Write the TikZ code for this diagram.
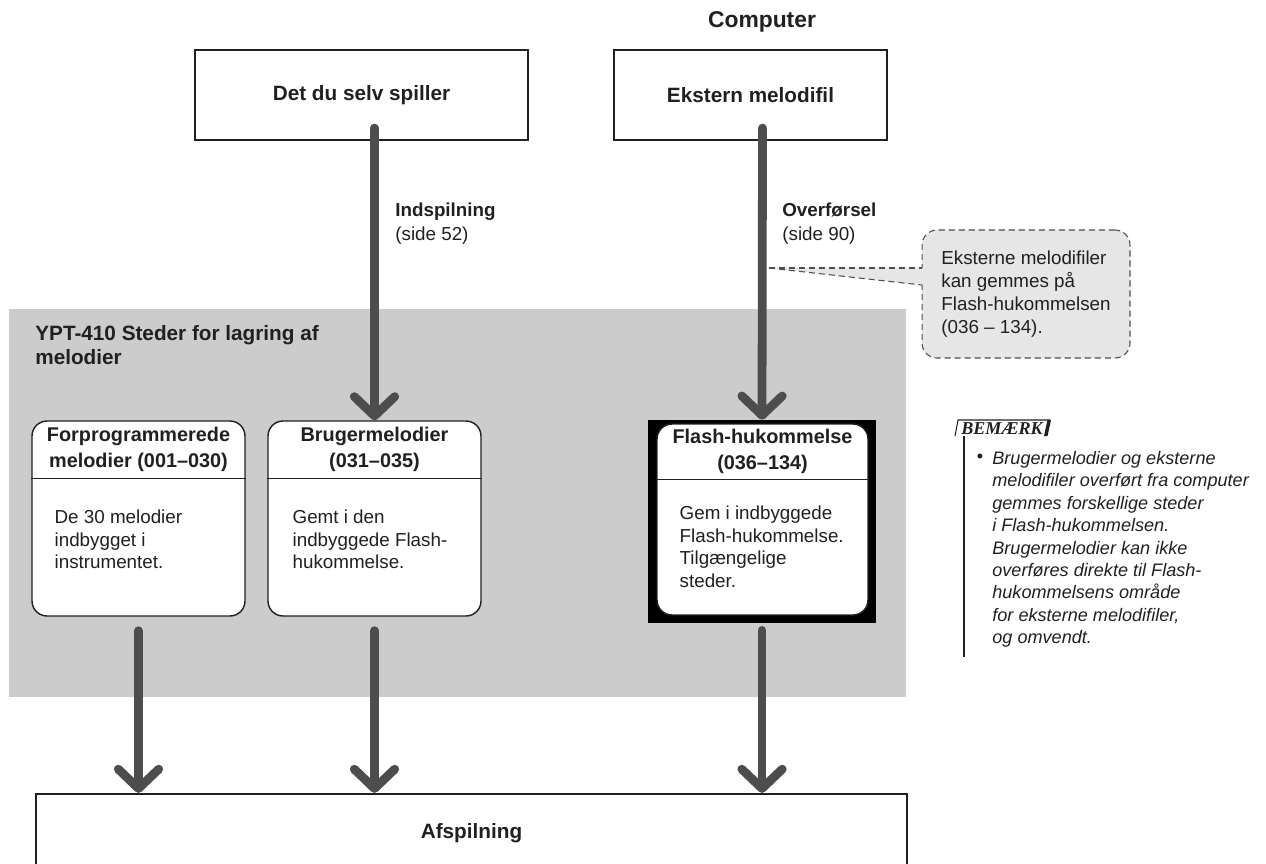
\documentclass[tikz,border=0pt]{standalone}
\usepackage{fontspec}
\setmainfont{Liberation Sans}
\newfontfamily\bemfont{Liberation Serif}
\usetikzlibrary{arrows.meta}
\definecolor{ink}{HTML}{231F20}
\definecolor{flowgray}{HTML}{4D4D4D}
\definecolor{areagray}{HTML}{CCCCCC}
\definecolor{callgray}{HTML}{E6E6E6}
\tikzset{
  topbox/.style={draw=ink,line width=1.2pt,minimum height=1.8cm,text=ink,
    font=\fontsize{11.8}{14}\selectfont\bfseries},
  membox/.style={draw=ink,line width=0.8pt,fill=white,rounded corners=0.3cm,
    minimum width=4.26cm,minimum height=3.9cm},
  memhead/.style={align=center,inner sep=0pt,text=ink,
    font=\fontsize{11.3}{15.3}\selectfont\bfseries},
  membody/.style={align=left,anchor=north west,inner sep=0pt,text=ink,
    font=\fontsize{10.7}{13}\selectfont},
  flow/.style={flowgray,line width=5pt,line cap=round,
    -{Straight Barb[round,length=11pt,width=23pt]}},
  flowlabel/.style={align=left,anchor=west,inner sep=0pt,text=ink,
    font=\fontsize{10.7}{13.6}\selectfont},
  calldash/.style={draw=flowgray,line width=0.6pt,dash pattern=on 3.5pt off 2.2pt}
}
\begin{document}
\begin{tikzpicture}[x=0.02cm,y=-0.02cm]
\path[use as bounding box,clip](0,0)rectangle(1266,863);
%storage area
\fill[areagray](9,309)rectangle(906,697);
\node[anchor=north west,align=left,inner sep=0pt,text=ink,font=\fontsize{11.8}{13.6}\selectfont\bfseries](areatitle)at(35,325){YPT-410 Steder for lagring af\\melodier};
%sources
\node[text=ink,font=\fontsize{13}{15}\selectfont\bfseries](computer)at(762,22){Computer};
\node[topbox,minimum width=6.66cm](selv)at(361.5,95){Det du selv spiller};
\node[topbox,minimum width=5.46cm](ekstern)at(750.5,95){Ekstern melodifil};
%melody boxes
\node[membox](pre)at(138.5,518.5){};
\node[memhead](prehead)at([yshift=-0.58cm]pre.north){Forprogrammerede\\melodier (001–030)};
\draw[ink,line width=0.8pt]([yshift=-1.16cm]pre.north west)--([yshift=-1.16cm]pre.north east);
\node[membody](prebody)at([xshift=0.46cm,yshift=-1.78cm]pre.north west){De 30 melodier\\indbygget i\\instrumentet.};
\node[membox](user)at(374.5,518.5){};
\node[memhead](userhead)at([yshift=-0.58cm]user.north){Brugermelodier\\(031–035)};
\draw[ink,line width=0.8pt]([yshift=-1.16cm]user.north west)--([yshift=-1.16cm]user.north east);
\node[membody](userbody)at([xshift=0.5cm,yshift=-1.78cm]user.north west){Gemt i den\\indbyggede Flash-\\hukommelse.};
\node[fill=black,inner sep=0pt,minimum width=4.56cm,minimum height=4.06cm](flashframe)at(762,521.5){};
\node[membox,minimum width=4.22cm,minimum height=3.82cm](flash)at(762.5,519.5){};
\node[memhead](flashhead)at([yshift=-0.56cm]flash.north){Flash-hukommelse\\(036–134)};
\draw[ink,line width=0.8pt]([yshift=-1.12cm]flash.north west)--([yshift=-1.12cm]flash.north east);
\node[membody](flashbody)at([xshift=0.46cm,yshift=-1.64cm]flash.north west){Gem i indbyggede\\Flash-hukommelse.\\Tilgængelige\\steder.};
%playback
\node[draw=ink,line width=1.3pt,minimum width=17.42cm,minimum height=1.56cm,text=ink,font=\fontsize{11.8}{14}\selectfont\bfseries](play)at(471.5,833){Afspilning};
%arrows
\draw[flow]([yshift=0.26cm]selv.south-|user.north)--(user.north);
\draw[flow]([yshift=0.26cm]ekstern.south-|flash.north)--(flashframe.north);
\node[flowlabel](rec)at(395,224){\textbf{Indspilning}\\(side 52)};
\node[flowlabel](xfer)at(782,224){\textbf{Overførsel}\\(side 90)};
\foreach \b in {pre,user}
  \draw[flow]([yshift=-0.28cm]\b.south)--(\b.south|-play.north);
\draw[flow]([yshift=-0.14cm]flashframe.south)--(flashframe.south|-play.north);
%callout
\node[calldash,fill=callgray,rounded corners=0.3cm,minimum width=4.16cm,minimum height=2.56cm,outer sep=0pt,align=left,text=ink,font=\fontsize{10.7}{13}\selectfont](callout)at(1026,294){Eksterne melodifiler\\kan gemmes på\\Flash-hukommelsen\\(036 – 134).};
\coordinate(calltail)at(769,268);
\fill[callgray](calltail)--([xshift=0.04cm]callout.west|-calltail)--([xshift=0.04cm,yshift=-0.34cm]callout.west|-calltail)--cycle;
\draw[calldash](calltail)--(callout.west|-calltail);
\draw[calldash](calltail)--([yshift=-0.34cm]callout.west|-calltail);
%note
\draw[ink,line width=0.6pt](955,436)--(958,420)--(1050,420);
\fill[ink](1044,436)--(1047.5,420)--(1051,420)--(1047.5,436)--cycle;
\node[text=ink,inner sep=0pt,font=\bemfont\bfseries\itshape\fontsize{10.3}{12}\selectfont](bem)at(1002,429){BEMÆRK};
\draw[ink,line width=0.6pt](964,436)--(964,657);
\node[text=ink,inner sep=0pt,font=\fontsize{10.3}{12}\selectfont](dot)at(980,458){•};
\node[anchor=north west,align=left,inner sep=0pt,text=ink,font=\fontsize{10.3}{12.75}\selectfont\itshape](notetext)at(992,451){Brugermelodier og eksterne\\melodifiler overført fra computer\\gemmes forskellige steder\\i Flash-hukommelsen.\\Brugermelodier kan ikke\\overføres direkte til Flash-\\hukommelsens område\\for eksterne melodifiler,\\og omvendt.};
\end{tikzpicture}
\end{document}
